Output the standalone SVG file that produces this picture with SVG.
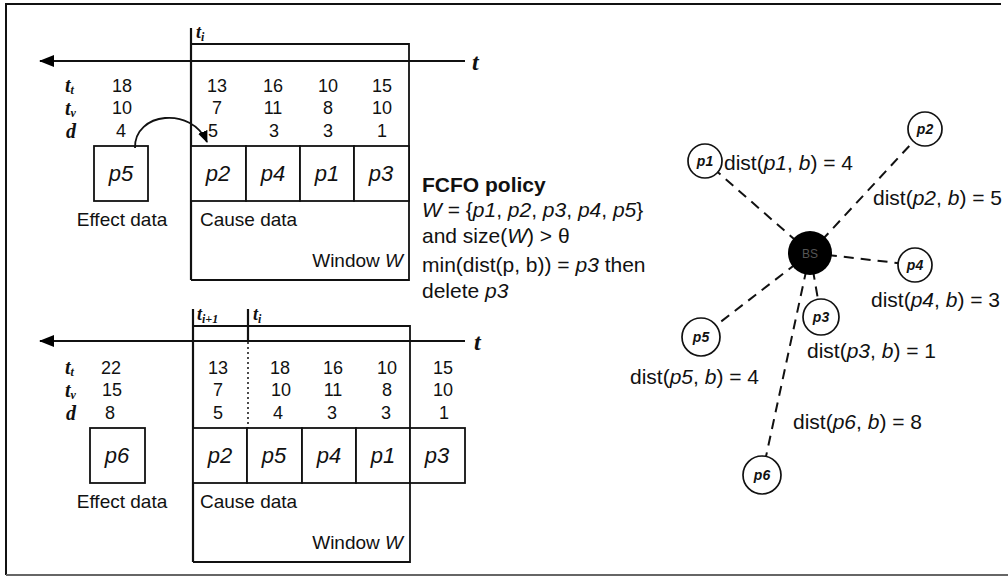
<svg xmlns="http://www.w3.org/2000/svg" width="1008" height="580" viewBox="0 0 1008 580">
<defs>
<marker id="axisHead" markerWidth="15" markerHeight="12" refX="14" refY="6" orient="auto" markerUnits="userSpaceOnUse"><path d="M0,0 L15,6 L0,12 Z" fill="#000"/></marker>
<marker id="curveHead" markerWidth="12" markerHeight="10" refX="11" refY="5" orient="auto" markerUnits="userSpaceOnUse"><path d="M0,0 L12,5 L0,10 Z" fill="#000"/></marker>
<style>
.frame{stroke:#111;stroke-width:2;fill:none}
.ln{stroke:#111;stroke-width:1.8;fill:none}
.axis{stroke:#111;stroke-width:2.2;fill:none}
.dot{stroke:#111;stroke-width:1.5;stroke-dasharray:2 3;fill:none}
.box{stroke:#111;stroke-width:1.8;fill:#fff}
.num{font-family:"Liberation Sans",Arial,sans-serif;font-size:18px;text-anchor:middle;fill:#111}
.lbl{font-family:"Liberation Sans",Arial,sans-serif;font-size:19px;fill:#111}
.pl{font-family:"Liberation Sans",Arial,sans-serif;font-size:22px;font-style:italic;text-anchor:middle;fill:#111}
.var{font-family:"Liberation Serif","Times New Roman",serif;font-style:italic;font-weight:bold;font-size:20px;fill:#111}
.tl{font-family:"Liberation Serif","Times New Roman",serif;font-style:italic;font-weight:bold;font-size:24px;fill:#111}
.sub{font-size:12px}
.tk{font-family:"Liberation Serif","Times New Roman",serif;font-style:italic;font-weight:bold;font-size:18px;fill:#111}
.tks{font-size:12px}
.pol{font-family:"Liberation Sans",Arial,sans-serif;font-size:21px;fill:#111}
.it{font-style:italic}
.node{stroke:#111;stroke-width:1.7;fill:#fff}
.nl{font-family:"Liberation Sans",Arial,sans-serif;font-size:14px;font-style:italic;font-weight:bold;text-anchor:middle;fill:#111}
.dash{stroke:#111;stroke-width:2;stroke-dasharray:10 7;fill:none}
</style>
</defs>
<rect width="1008" height="580" fill="#fff"/>
<path class="frame" d="M6,575 V4 H1001"/>
<path d="M6,575 H1008" stroke="#666" stroke-width="2" fill="none"/>

<g id="top-section">
  <line class="axis" x1="465" y1="61" x2="40" y2="61" marker-end="url(#axisHead)"/>
  <text class="tl" x="472" y="70">t</text>
  <line class="axis" x1="191" y1="28" x2="191" y2="280"/>
  <path class="ln" d="M191,44 H409 V280 H191"/>
  <text class="tk" x="196" y="38">t<tspan class="tks" dy="3">i</tspan></text>
  <text class="var" x="65" y="92">t<tspan class="sub" dy="2">t</tspan></text>
  <text class="var" x="65" y="115">t<tspan class="sub" dy="2">v</tspan></text>
  <text class="var" x="66" y="138">d</text>
  <g class="num">
    <text x="122" y="92">18</text><text x="217" y="92">13</text><text x="273" y="92">16</text><text x="328" y="92">10</text><text x="382" y="92">15</text>
    <text x="122" y="114">10</text><text x="217" y="114">7</text><text x="273" y="114">11</text><text x="328" y="114">8</text><text x="382" y="114">10</text>
    <text x="121" y="137">4</text><text x="213" y="137">5</text><text x="274" y="137">3</text><text x="328" y="137">3</text><text x="382" y="137">1</text>
  </g>
  <g id="top-p5"><rect class="box" x="94" y="146" width="54" height="55"/><text class="pl" x="121" y="181">p5</text></g>
  <g id="top-p2"><rect class="box" x="191" y="146" width="55" height="55"/><text class="pl" x="218" y="181">p2</text></g>
  <g id="top-p4"><rect class="box" x="246" y="146" width="54" height="55"/><text class="pl" x="273" y="181">p4</text></g>
  <g id="top-p1"><rect class="box" x="300" y="146" width="54" height="55"/><text class="pl" x="327" y="181">p1</text></g>
  <g id="top-p3"><rect class="box" x="354" y="146" width="55" height="55"/><text class="pl" x="381" y="181">p3</text></g>
  <text class="lbl" x="122" y="226" text-anchor="middle">Effect data</text>
  <text class="lbl" x="200" y="226">Cause data</text>
  <text class="lbl" x="403" y="267" text-anchor="end">Window <tspan class="it">W</tspan></text>
  <path class="ln" d="M135,148 C134,112 192,106 207,142" marker-end="url(#curveHead)"/>
</g>

<g id="policy">
  <text class="pol" x="422" y="192" font-weight="bold">FCFO policy</text>
  <text class="pol" x="422" y="217"><tspan class="it">W</tspan> = {<tspan class="it">p1</tspan>, <tspan class="it">p2</tspan>, <tspan class="it">p3</tspan>, <tspan class="it">p4</tspan>, <tspan class="it">p5</tspan>}</text>
  <text class="pol" x="422" y="243">and size(<tspan class="it">W</tspan>) &gt; θ</text>
  <text class="pol" x="422" y="272">min(dist(p, b)) = <tspan class="it">p3</tspan> then</text>
  <text class="pol" x="422" y="298">delete <tspan class="it">p3</tspan></text>
</g>

<g id="bottom-section">
  <line class="axis" x1="465" y1="341" x2="40" y2="341" marker-end="url(#axisHead)"/>
  <text class="tl" x="474" y="350">t</text>
  <line class="axis" x1="193" y1="309" x2="193" y2="562"/>
  <line class="axis" x1="248" y1="309" x2="248" y2="341"/>
  <line class="dot" x1="248" y1="342" x2="248" y2="428"/>
  <path class="ln" d="M193,326 H410 V562 H193"/>
  <text class="tk" x="197" y="320">t<tspan class="tks" dy="3">i+1</tspan></text>
  <text class="tk" x="253" y="320">t<tspan class="tks" dy="3">i</tspan></text>
  <text class="var" x="65" y="374">t<tspan class="sub" dy="2">t</tspan></text>
  <text class="var" x="65" y="397">t<tspan class="sub" dy="2">v</tspan></text>
  <text class="var" x="66" y="420">d</text>
  <g class="num">
    <text x="111" y="374">22</text><text x="218" y="374">13</text><text x="280" y="374">18</text><text x="333" y="374">16</text><text x="387" y="374">10</text><text x="443" y="374">15</text>
    <text x="112" y="396">15</text><text x="218" y="396">7</text><text x="281" y="396">10</text><text x="333" y="396">11</text><text x="387" y="396">8</text><text x="443" y="396">10</text>
    <text x="110" y="419">8</text><text x="218" y="419">5</text><text x="278" y="419">4</text><text x="332" y="419">3</text><text x="386" y="419">3</text><text x="444" y="419">1</text>
  </g>
  <g id="bot-p6"><rect class="box" x="90" y="428" width="55" height="55"/><text class="pl" x="117" y="463">p6</text></g>
  <g id="bot-p2"><rect class="box" x="193" y="428" width="54" height="55"/><text class="pl" x="220" y="463">p2</text></g>
  <g id="bot-p5"><rect class="box" x="247" y="428" width="55" height="55"/><text class="pl" x="274" y="463">p5</text></g>
  <g id="bot-p4"><rect class="box" x="302" y="428" width="54" height="55"/><text class="pl" x="329" y="463">p4</text></g>
  <g id="bot-p1"><rect class="box" x="356" y="428" width="54" height="55"/><text class="pl" x="383" y="463">p1</text></g>
  <g id="bot-p3"><rect class="box" x="410" y="428" width="55" height="55"/><text class="pl" x="437" y="463">p3</text></g>
  <text class="lbl" x="122" y="508" text-anchor="middle">Effect data</text>
  <text class="lbl" x="200" y="508">Cause data</text>
  <text class="lbl" x="403" y="549" text-anchor="end">Window <tspan class="it">W</tspan></text>
</g>

<g id="connectors">
  <line class="dash" x1="810" y1="253" x2="705" y2="161"/>
  <line class="dash" x1="810" y1="253" x2="925" y2="129"/>
  <line class="dash" x1="810" y1="253" x2="915" y2="265"/>
  <line class="dash" x1="810" y1="253" x2="821" y2="317"/>
  <line class="dash" x1="810" y1="253" x2="701" y2="337"/>
  <line class="dash" x1="810" y1="253" x2="762" y2="475"/>
</g>

<g id="node-bs"><circle cx="810" cy="253" r="22" fill="#000"/><text x="810" y="258" font-family="Liberation Sans, Arial, sans-serif" font-size="12" fill="#555" text-anchor="middle">BS</text></g>
<g id="node-p1"><circle class="node" cx="705" cy="161" r="17"/><text class="nl" x="705" y="166">p1</text></g>
<g id="node-p2"><circle class="node" cx="925" cy="129" r="17"/><text class="nl" x="925" y="134">p2</text></g>
<g id="node-p4"><circle class="node" cx="915" cy="265" r="17"/><text class="nl" x="915" y="270">p4</text></g>
<g id="node-p3"><circle class="node" cx="821" cy="317" r="18"/><text class="nl" x="821" y="322">p3</text></g>
<g id="node-p5"><circle class="node" cx="701" cy="337" r="19"/><text class="nl" x="701" y="342">p5</text></g>
<g id="node-p6"><circle class="node" cx="762" cy="475" r="19"/><text class="nl" x="762" y="480">p6</text></g>

<g id="dist-labels" class="pol">
  <text x="724" y="170">dist(<tspan class="it">p1</tspan>, <tspan class="it">b</tspan>) = 4</text>
  <text x="873" y="205">dist(<tspan class="it">p2</tspan>, <tspan class="it">b</tspan>) = 5</text>
  <text x="871" y="307">dist(<tspan class="it">p4</tspan>, <tspan class="it">b</tspan>) = 3</text>
  <text x="807" y="358">dist(<tspan class="it">p3</tspan>, <tspan class="it">b</tspan>) = 1</text>
  <text x="630" y="384">dist(<tspan class="it">p5</tspan>, <tspan class="it">b</tspan>) = 4</text>
  <text x="793" y="429">dist(<tspan class="it">p6</tspan>, <tspan class="it">b</tspan>) = 8</text>
</g>
</svg>
